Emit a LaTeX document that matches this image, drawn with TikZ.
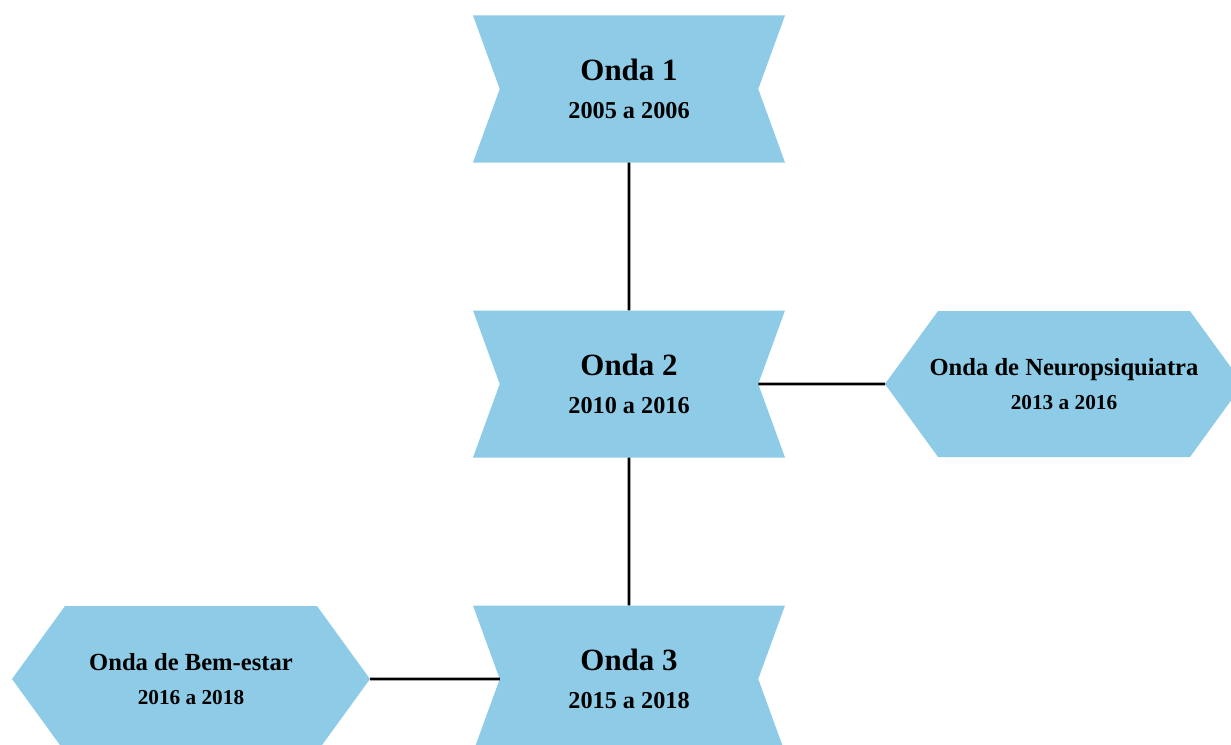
\documentclass[tikz,border=0pt]{standalone}
\usepackage{fontspec}
\setmainfont{Liberation Serif}
\usepackage{tikz}
\usetikzlibrary{shapes.symbols,positioning}
\definecolor{ondablue}{RGB}{142,203,230}

\begin{document}
\begin{tikzpicture}[
  ribbon/.style={signal,signal from=west and east,signal to=nowhere,signal pointer angle=140,
    fill=ondablue,draw=none,outer sep=0pt,minimum width=6.24cm,minimum height=2.94cm,
    align=center,font=\bfseries\fontsize{13.8}{22}\selectfont},
  hexa/.style={signal,signal to=west and east,signal pointer angle=108,
    fill=ondablue,draw=none,outer sep=0pt,inner xsep=-6pt,minimum width=7.16cm,minimum height=2.92cm,
    align=center,font=\bfseries\fontsize{12.1}{19}\selectfont},
  link/.style={line width=1.6pt,black},
]
\useasboundingbox (0,0) rectangle (24.62,14.88);
\clip (0,0) rectangle (24.62,14.88);

% Main waves
\node[ribbon] (onda1) at (12.58,13.1) {{\fontsize{17.6}{22}\selectfont Onda 1}\\2005 a 2006};
\node[ribbon] (onda2) at (12.58,7.2) {{\fontsize{17.6}{22}\selectfont Onda 2}\\2010 a 2016};
\node[ribbon] (onda3) at (12.58,1.3) {{\fontsize{17.6}{22}\selectfont Onda 3}\\2015 a 2018};

% Side waves
\node[hexa] (neuro) at (21.28,7.2) {{\fontsize{14}{19}\selectfont Onda de Neuropsiquiatra}\\2013 a 2016};
\node[hexa] (bem) at (3.82,1.3) {{\fontsize{14}{19}\selectfont Onda de Bem-estar}\\2016 a 2018};

% Connections
\draw[link] (onda1) -- (onda2);
\draw[link] (onda2) -- (onda3);
\draw[link] (onda2) -- (neuro);
\draw[link] (bem) -- (onda3);

\end{tikzpicture}
\end{document}
